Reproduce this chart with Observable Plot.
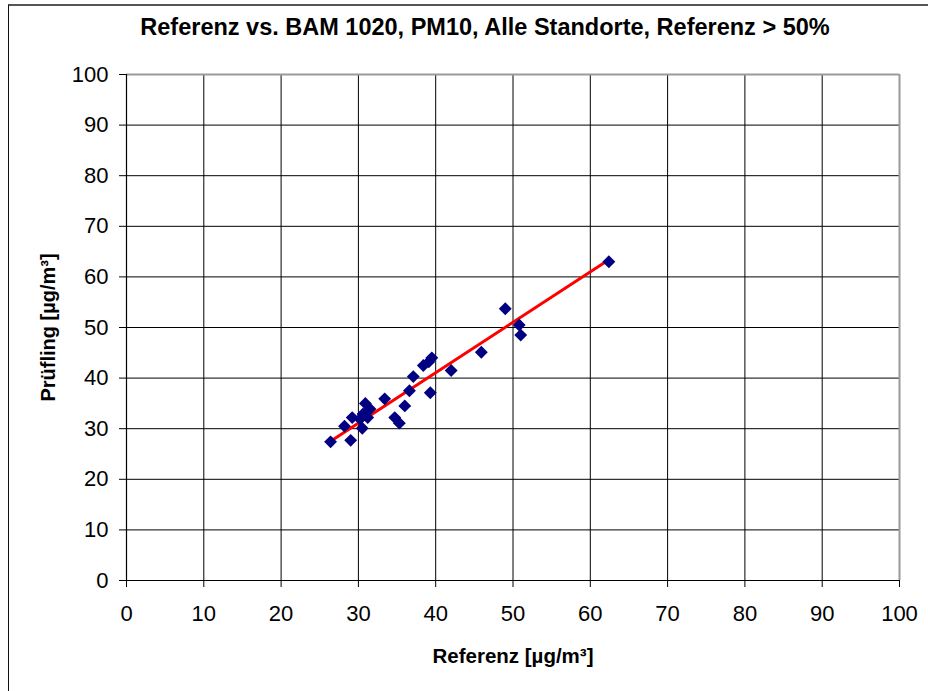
<!DOCTYPE html>
<html>
<head>
<meta charset="utf-8">
<script src="https://cdn.jsdelivr.net/npm/d3@7"></script>
<script src="https://cdn.jsdelivr.net/npm/@observablehq/plot@0.6"></script>
<style>
  html, body { margin: 0; padding: 0; background: #fff; }
  #wrap { position: relative; width: 928px; height: 691px; overflow: hidden; }
  #wrap svg { position: absolute; left: 0; top: 0; }
  #frame { position: absolute; left: 8px; top: 4px; width: 940px; height: 720px;
           border-top: 2px solid #555; border-left: 1.5px solid #111; pointer-events: none; }
</style>
</head>
<body>
<div id="wrap"><div id="frame"></div></div>
<script>
// Data
const titleText = "Referenz vs. BAM 1020, PM10, Alle Standorte, Referenz > 50%";
const xLabelText = "Referenz [µg/m³]";
const yLabelText = "Prüfling [µg/m³]";
const xTicks = [0, 10, 20, 30, 40, 50, 60, 70, 80, 90, 100];
const yTicks = [0, 10, 20, 30, 40, 50, 60, 70, 80, 90, 100];

const referenz = [26.4, 29.0, 28.2, 29.2, 30.5, 30.9, 31.5, 30.6, 31.2, 30.2, 33.4, 34.7, 35.3, 36.0, 36.6, 37.1, 38.4, 39.1, 39.5, 39.3, 42.0, 45.9, 49.0, 50.8, 51.0, 62.4];
const pruefling = [27.4, 27.7, 30.5, 32.2, 30.1, 35.0, 33.9, 32.9, 32.2, 31.9, 35.9, 32.2, 31.1, 34.5, 37.5, 40.3, 42.5, 43.2, 44.0, 37.1, 41.5, 45.1, 53.7, 50.5, 48.5, 63.0];

// Regression line endpoints
const fitX = [26.4, 62.4];
const fitY = [27.5, 63.4];

const points = referenz.map((x, i) => ({x, y: pruefling[i]}));
const fit = fitX.map((x, i) => ({x, y: fitY[i]}));

const innerTicks = xTicks.filter(d => d > 0 && d < 100);
const innerYTicks = yTicks.filter(d => d > 0 && d < 100);

const chart = Plot.plot({
  width: 928,
  height: 691,
  marginLeft: 126,
  marginRight: 29,
  marginTop: 74,
  marginBottom: 111,
  style: {fontFamily: "'Liberation Sans', Arial, sans-serif", color: "#000", background: "transparent", overflow: "visible"},
  x: {domain: [0, 100]},
  y: {domain: [0, 100]},
  marks: [
    Plot.gridX(innerTicks, {stroke: "#000", strokeOpacity: 1, strokeWidth: 1}),
    Plot.gridY(innerYTicks, {stroke: "#000", strokeOpacity: 1, strokeWidth: 1}),
    Plot.ruleX([100], {stroke: "#9a9a9a", strokeWidth: 2}),
    Plot.ruleY([100], {stroke: "#9a9a9a", strokeWidth: 2}),
    Plot.ruleX([0], {stroke: "#000", strokeWidth: 1.2}),
    Plot.ruleY([0], {stroke: "#000", strokeWidth: 1.2}),
    Plot.axisY(yTicks, {tickSize: 7, tickPadding: 11, fontSize: 22, label: null, stroke: "#000"}),
    Plot.axisX(xTicks, {tickSize: 7, tickPadding: 18, fontSize: 22, label: null, stroke: "#000"}),
    Plot.line(fit, {x: "x", y: "y", stroke: "#ff0000", strokeWidth: 3}),
    Plot.dot(points, {x: "x", y: "y", symbol: "diamond2", r: 5.8, fill: "#000080", stroke: "none"}),
    Plot.text([titleText], {frameAnchor: "top", dy: -47, dx: -28, fontSize: 23.5, fontWeight: "bold", textAnchor: "middle", lineAnchor: "middle"}),
    Plot.text([xLabelText], {frameAnchor: "bottom", dy: 76, fontSize: 20.5, fontWeight: "bold", textAnchor: "middle", lineAnchor: "middle"}),
    Plot.text([yLabelText], {frameAnchor: "left", dx: -78, rotate: -90, fontSize: 20, fontWeight: "bold", textAnchor: "middle", lineAnchor: "middle"})
  ]
});
document.getElementById("wrap").appendChild(chart);
</script>
</body>
</html>
